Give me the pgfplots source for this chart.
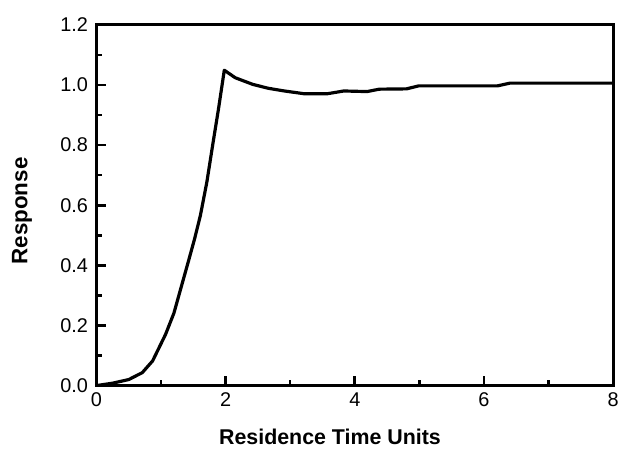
\documentclass[border=0pt]{standalone}
\usepackage{fontspec}
\setmainfont{Liberation Sans}
\usepackage{pgfplots}
\pgfplotsset{compat=1.18}
\begin{document}
\begin{tikzpicture}
\begin{axis}[
  name=ax,
  scale only axis,
  width=520pt, height=363pt,
  xmin=0, xmax=8, ymin=0, ymax=1.2,
  xtick={0,2,4,6,8},
  ytick={0,0.2,0.4,0.6,0.8,1.0,1.2},
  minor xtick={1,3,5,7},
  minor ytick={0.1,0.3,0.5,0.7,0.9,1.1},
  tick pos=left, tick align=inside,
  major tick length=10pt, minor tick length=6pt,
  every tick/.style={black, line width=2.6pt},
  axis line style={line width=3.2pt},
  /pgf/number format/assume math mode=true,
  y tick label style={/pgf/number format/fixed, /pgf/number format/fixed zerofill, /pgf/number format/precision=1},
  tick label style={font=\fontsize{20}{20}\selectfont},
  x tick label style={yshift=-4pt},
  y tick label style={xshift=-5pt},
  xlabel={Residence Time Units},
  ylabel={Response},
  xlabel style={font=\bfseries\fontsize{21.5}{21.5}\selectfont, at={(axis description cs:0.452,-0.143)}, anchor=center},
  ylabel style={font=\bfseries\fontsize{22.5}{22.5}\selectfont, at={(axis description cs:-0.144,0.484)}, anchor=center},
]
\addplot[black, line width=3.2pt, line join=round, mark=none] coordinates {
(0,0) (0.25,0.008) (0.50,0.020) (0.71,0.043) (0.87,0.082) (0.97,0.126)
(1.07,0.170) (1.20,0.241) (1.30,0.318) (1.42,0.410) (1.52,0.488) (1.61,0.566)
(1.71,0.677) (1.80,0.80) (1.89,0.92) (1.98,1.049) (2.15,1.024) (2.42,1.002) (2.66,0.989)
(2.91,0.980) (3.21,0.971) (3.58,0.971) (3.83,0.980) (4.19,0.978) (4.38,0.986)
(4.80,0.987) (4.99,0.997) (6.21,0.997) (6.40,1.006) (8.0,1.006)
};
\end{axis}
\path (ax.south west) ++(-97pt,-60pt);
\path (ax.north east) ++(5pt,25pt);
\end{tikzpicture}
\end{document}
